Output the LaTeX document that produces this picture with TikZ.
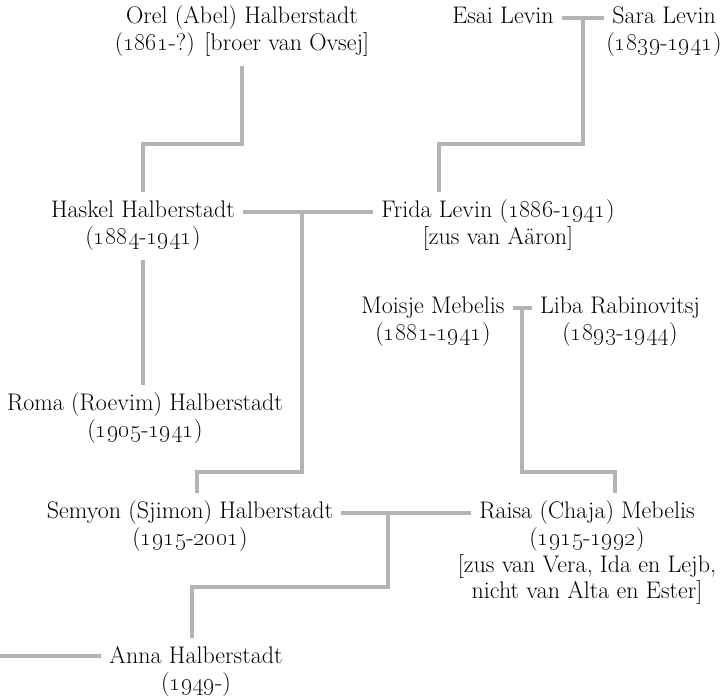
\documentclass[tikz,border=0pt]{standalone}
\usetikzlibrary{positioning,calc}
\definecolor{linkgray}{HTML}{B4B4B4}

\begin{document}
\begin{tikzpicture}[
    x=1pt, y=-1pt,
    person/.style={font=\fontsize{24}{26.5}\selectfont, text height=16pt, text depth=5pt,
        inner xsep=8pt, inner ysep=9pt},
    dates/.style={font=\fontsize{24}{26.5}\selectfont, align=center, inner xsep=8pt, inner ysep=9pt},
    link/.style={draw=linkgray, line width=4pt}
]
\useasboundingbox (0,0) rectangle (725,698);

% generatie 1
\node[person] (orel) at (242,18) {Orel (Abel) Halberstadt};
\node[dates, below=-14pt of orel] (orel-d) {(\oldstylenums{1861}-?) [broer van Ovsej]};
\node[person] (esai) at (503,18) {Esai Levin};
\node[person] (sara) at (664,18) {Sara Levin};
\node[dates, below=-14pt of sara] (sara-d) {(\oldstylenums{1839}-\oldstylenums{1941})};

% generatie 2
\node[person] (haskel) at (143,212) {Haskel Halberstadt};
\node[dates, below=-14pt of haskel] (haskel-d) {(\oldstylenums{1884}-\oldstylenums{1941})};
\node[person] (frida) at (498,212) {Frida Levin (\oldstylenums{1886}-\oldstylenums{1941})};
\node[dates, below=-14pt of frida] (frida-d) {[zus van Aäron]};
\node[person] (moisje) at (433,308) {Moisje Mebelis};
\node[dates, below=-14pt of moisje] (moisje-d) {(\oldstylenums{1881}-\oldstylenums{1941})};
\node[person] (liba) at (620,308) {Liba Rabinovitsj};
\node[dates, below=-14pt of liba] (liba-d) {(\oldstylenums{1893}-\oldstylenums{1944})};

% generatie 3
\node[person] (roma) at (145,405) {Roma (Roevim) Halberstadt};
\node[dates, below=-14pt of roma] (roma-d) {(\oldstylenums{1905}-\oldstylenums{1941})};
\node[person] (semyon) at (190,513) {Semyon (Sjimon) Halberstadt};
\node[dates, below=-14pt of semyon] (semyon-d) {(\oldstylenums{1915}-\oldstylenums{2001})};
\node[person] (raisa) at (587,513) {Raisa (Chaja) Mebelis};
\node[dates, below=-14pt of raisa] (raisa-d) {(\oldstylenums{1915}-\oldstylenums{1992})\\
    {[zus van Vera, Ida en Lejb,}\\ {nicht van Alta en Ester]}};

% generatie 4
\node[person] (anna) at (196,658) {Anna Halberstadt};
\node[dates, below=-14pt of anna] (anna-d) {(\oldstylenums{1949}-)};
\coordinate (anna-partner) at (0,656);

% huwelijken
\draw[link] (esai) -- (sara);
\draw[link] (haskel) -- (frida);
\draw[link] (moisje) -- (liba);
\draw[link] (semyon) -- (raisa);
\draw[link] (anna-partner) -- (anna.west |- anna-partner);

% kinderen
\draw[link] (orel-d.south) |- ($(haskel.north)+(0,-48)$) -| (haskel.north);
\draw[link] ($(esai.east)!0.5!(sara.west)$) |- ($(frida.north)+(-59,-48)$) -| ($(frida.north)+(-59,0)$);
\draw[link] (haskel-d.south) -- (haskel-d.south |- roma.north);
\draw[link] ($(haskel.east)!0.45!(frida.west)$) |- ($(semyon.north)+(7,-21)$) -| ($(semyon.north)+(7,0)$);
\draw[link] ($(moisje.east)!0.5!(liba.west)$) |- ($(raisa.north)+(28,-21)$) -| ($(raisa.north)+(28,0)$);
\draw[link] ($(semyon.east)!0.36!(raisa.west)$) |- ($(anna.north)+(-4,-51)$) -| ($(anna.north)+(-4,0)$);
\end{tikzpicture}
\end{document}
